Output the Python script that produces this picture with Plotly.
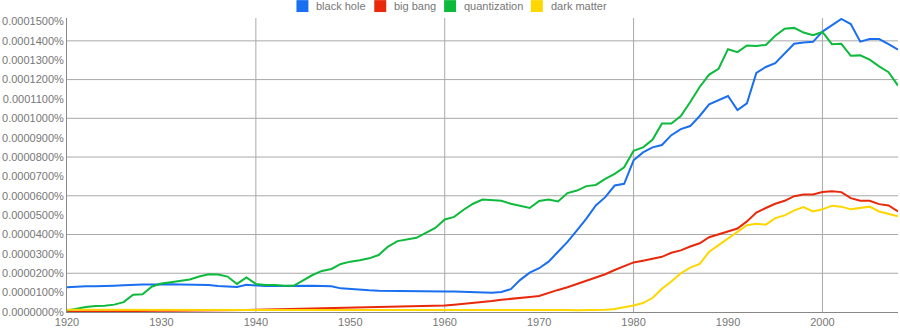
import plotly.graph_objects as go

# Yearly frequencies, in units of 0.000001 % of all n-grams
years = list(range(1920, 2009))

black_hole = [
    12.8, 13.1, 13.3, 13.3, 13.3, 13.6, 13.8, 14.1, 14.2, 14.2,
    14.4, 14.3, 14.2, 14.1, 14.0, 14.0, 13.4, 13.2, 12.9, 14.1,
    13.6, 13.4, 13.4, 13.5, 13.3, 13.5, 13.5, 13.4, 13.3, 12.2,
    11.8, 11.5, 11.2, 11.0, 10.9, 10.9, 10.8, 10.6, 10.7, 10.6,
    10.6, 10.6, 10.5, 10.2, 10.0, 9.9, 10.3, 11.8, 16.6, 20.3,
    22.6, 26.0, 31.1, 36.2, 42.2, 48.2, 55.0, 59.3, 65.3, 66.2,
    78.3, 82.4, 85.0, 86.2, 91.3, 94.4, 96.0, 101.2, 107.2, 109.4,
    111.5, 104.3, 107.7, 123.4, 126.5, 128.5, 133.7, 138.5, 139.1, 139.5,
    144.8, 148.2, 151.3, 148.7, 139.6, 141.0, 140.9, 138.3, 135.4,
]

big_bang = [
    0.3, 0.3, 0.4, 0.4, 0.4, 0.5, 0.5, 0.5, 0.6, 0.6,
    0.6, 0.7, 0.7, 0.7, 0.8, 0.8, 0.9, 0.9, 1.0, 1.0,
    1.1, 1.2, 1.3, 1.4, 1.5, 1.6, 1.7, 1.8, 1.9, 2.0,
    2.1, 2.2, 2.3, 2.4, 2.5, 2.6, 2.8, 2.9, 3.1, 3.2,
    3.4, 3.8, 4.2, 4.6, 5.1, 5.7, 6.3, 6.9, 7.4, 7.8,
    8.3, 10.0, 11.4, 12.8, 14.5, 16.4, 17.8, 19.5, 21.7, 23.6,
    25.6, 26.5, 27.4, 28.5, 30.6, 31.8, 33.8, 35.5, 38.6, 40.0,
    41.4, 43.1, 46.8, 51.3, 53.7, 55.9, 57.4, 59.8, 60.7, 60.7,
    61.9, 62.4, 61.9, 58.8, 57.4, 57.4, 55.7, 55.0, 51.9,
]

quantization = [
    0.7, 1.7, 2.6, 3.1, 3.2, 3.8, 5.1, 8.9, 9.2, 13.2,
    14.7, 15.4, 16.1, 16.8, 18.3, 19.5, 19.3, 18.3, 14.5, 17.8,
    14.5, 14.0, 14.0, 13.5, 13.5, 16.4, 19.1, 21.2, 22.2, 24.8,
    26.0, 26.7, 27.7, 29.4, 33.8, 36.6, 37.6, 38.3, 40.9, 43.4,
    47.8, 49.1, 52.8, 55.9, 58.1, 57.8, 57.4, 55.9, 54.9, 53.7,
    57.3, 58.1, 57.1, 61.4, 62.7, 65.0, 65.6, 68.7, 71.3, 74.7,
    83.2, 85.0, 88.9, 97.3, 97.3, 101.2, 108.4, 116.2, 122.6, 125.6,
    135.7, 134.2, 137.6, 137.4, 137.9, 142.6, 146.3, 146.7, 144.3, 142.9,
    144.6, 138.3, 138.5, 132.3, 132.5, 130.3, 126.8, 123.8, 116.9,
]

dark_matter = [
    1.1, 1.1, 1.2, 1.2, 1.2, 1.2, 1.3, 1.3, 1.3, 1.3,
    1.2, 1.2, 1.2, 1.1, 1.1, 1.1, 1.1, 1.1, 1.0, 1.0,
    1.0, 1.0, 1.0, 1.1, 1.1, 1.1, 1.2, 1.2, 1.2, 1.3,
    1.3, 1.3, 1.3, 1.3, 1.3, 1.3, 1.3, 1.3, 1.2, 1.2,
    1.2, 1.2, 1.2, 1.2, 1.2, 1.1, 1.1, 1.1, 1.0, 1.0,
    1.0, 1.0, 1.0, 1.0, 0.9, 0.9, 1.0, 1.2, 1.5, 2.4,
    3.4, 4.6, 7.2, 12.0, 15.7, 20.0, 22.9, 24.8, 31.1, 34.5,
    37.9, 41.7, 44.8, 45.6, 45.1, 48.5, 49.9, 52.5, 54.2, 51.9,
    53.0, 54.9, 54.4, 53.0, 53.8, 54.4, 51.9, 50.6, 49.4,
]

series_names = ["black hole", "big bang", "quantization", "dark matter"]
series_values = [black_hole, big_bang, quantization, dark_matter]
series_colors = ["#1a6ff0", "#e8290b", "#0dba3c", "#ffd700"]

UNIT = 1e-6  # one stored unit = 0.000001 %

y_ticks = [v * 10 for v in range(16)]          # label every 0.00001 %
y_grid = [20, 40, 60, 80, 100, 120, 140]       # grid every 0.00002 %
x_ticks = list(range(1920, 2001, 10))
x_grid = [1940, 1960, 1980, 2000]

W, H = 900, 330
M_L, M_R, M_T, M_B = 65, 2, 18, 16
plot_w = W - M_L - M_R
plot_h = H - M_T - M_B

TEXT = "#777777"
FONT = "Liberation Sans, Arial, sans-serif"

fig = go.Figure()

for name, vals, color in zip(series_names, series_values, series_colors):
    fig.add_trace(go.Scatter(
        x=years,
        y=[v * UNIT for v in vals],
        mode="lines",
        name=name,
        line=dict(color=color, width=2),
        showlegend=False,
        hovertemplate="%{x}: %{y:.7f}%<extra>" + name + "</extra>",
    ))

# Grid lines behind the data
for gy in y_grid:
    fig.add_shape(type="line", xref="paper", x0=0, x1=1, yref="y",
                  y0=gy * UNIT, y1=gy * UNIT, layer="below",
                  line=dict(color="#a9a9a9", width=1))
for gx in x_grid:
    fig.add_shape(type="line", yref="paper", y0=0, y1=1, xref="x",
                  x0=gx, x1=gx, layer="below",
                  line=dict(color="#a9a9a9", width=1))

# Legend row across the top: coloured square + label
legend_left_px = [295, 373, 443, 530]
sq = 12
for name, color, px in zip(series_names, series_colors, legend_left_px):
    x0 = (px - M_L) / plot_w
    x1 = (px + sq - M_L) / plot_w
    y_top = (H - M_B - 0) / plot_h
    y_bot = (H - M_B - sq) / plot_h
    fig.add_shape(type="rect", xref="paper", yref="paper",
                  x0=x0, x1=x1, y0=y_bot, y1=y_top,
                  fillcolor=color, line=dict(width=0))
    fig.add_annotation(x=(px + sq + 6 - M_L) / plot_w,
                       y=(H - M_B - sq / 2) / plot_h,
                       xref="paper", yref="paper",
                       xanchor="left", yanchor="middle",
                       text=name, showarrow=False,
                       font=dict(family=FONT, size=11, color=TEXT))

fig.update_layout(
    width=W, height=H,
    margin=dict(l=M_L, r=M_R, t=M_T, b=M_B, pad=0),
    paper_bgcolor="white",
    plot_bgcolor="white",
    font=dict(family=FONT, size=11, color=TEXT),
    showlegend=False,
    xaxis=dict(
        range=[1920, 2008],
        tickvals=x_ticks,
        ticktext=[str(t) for t in x_ticks],
        showgrid=False, zeroline=False,
        showline=True, linecolor="#888888", linewidth=1,
        ticks="", tickfont=dict(size=11, color=TEXT),
    ),
    yaxis=dict(
        range=[0, 151.8 * UNIT],
        tickvals=[t * UNIT for t in y_ticks],
        ticktext=["%.7f%%" % (t * UNIT) for t in y_ticks],
        showgrid=False, zeroline=False,
        showline=True, linecolor="#888888", linewidth=1,
        ticks="", tickfont=dict(size=11, color=TEXT),
    ),
)

fig.write_html("out.html")
